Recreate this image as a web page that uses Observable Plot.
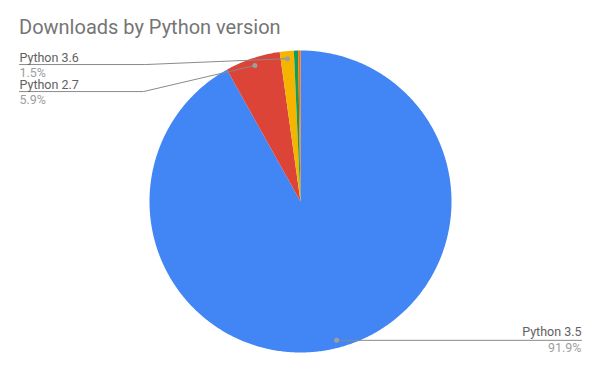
<!DOCTYPE html>
<html>
<head>
<meta charset="utf-8">
<script src="https://cdn.jsdelivr.net/npm/d3@7"></script>
<script src="https://cdn.jsdelivr.net/npm/@observablehq/plot@0.6"></script>
<style>
  body { margin: 0; background: #fff; }
  #wrap { position: relative; width: 600px; height: 371px; font-family: Roboto, sans-serif; }
  #title { position: absolute; left: 19px; top: 15px; font-size: 20px; font-weight: 400; line-height: normal; color: #757575; font-family: Roboto, sans-serif; white-space: nowrap; }
</style>
</head>
<body>
<div id="wrap">
  <div id="title">Downloads by Python version</div>
</div>
<script>
// ---- data ----
const versions = ["Python 3.5", "Python 2.7", "Python 3.6", "Python 3.4", "Other"];
const shares = [91.9, 5.9, 1.5, 0.45, 0.25];
const labelled = ["Python 3.5", "Python 2.7", "Python 3.6"];
const colors = ["#4285f4", "#db4437", "#f4b400", "#0f9d58", "#ff6d00"];

// ---- layout ----
const W = 600, H = 371;
const total = d3.sum(shares);
const slices = [];
let acc = 0;
versions.forEach((v, i) => {
  const a0 = acc / total * 2 * Math.PI;
  acc += shares[i];
  const a1 = acc / total * 2 * Math.PI;
  slices.push({name: v, value: shares[i], a0, a1, mid: (a0 + a1) / 2});
});

// polygon points for each slice (angle clockwise from 12 o'clock)
const pts = [];
for (const s of slices) {
  pts.push({name: s.name, x: 0, y: 0});
  const n = Math.max(2, Math.ceil((s.a1 - s.a0) / 0.01));
  for (let k = 0; k <= n; k++) {
    const a = s.a0 + (s.a1 - s.a0) * k / n;
    pts.push({name: s.name, x: Math.sin(a), y: Math.cos(a)});
  }
  pts.push({name: s.name, x: 0, y: 0});
}

// callouts (layout in radius units)
const rDot = 0.95;
const callout = {
  "Python 3.5": {elbow: null, endX: 1.861, lineY: null, side: "right"},
  "Python 2.7": {elbow: -1.04, endX: -1.861, lineY: 0.728, side: "left"},
  "Python 3.6": {elbow: -1.026, endX: -1.861, lineY: 0.907, side: "left"}
};
const dots = [], leaders = [], nameLabels = [], pctLabels = [];
for (const s of slices.filter(d => labelled.includes(d.name))) {
  const c = callout[s.name];
  const dx = rDot * Math.sin(s.mid), dy = rDot * Math.cos(s.mid);
  dots.push({name: s.name, x: dx, y: dy});
  const ly = c.lineY ?? dy;
  leaders.push({name: s.name, x: dx, y: dy});
  if (c.elbow != null) leaders.push({name: s.name, x: c.elbow, y: ly});
  leaders.push({name: s.name, x: c.endX, y: ly});
  nameLabels.push({name: s.name, x: c.endX, y: ly, anchor: c.side === "left" ? "start" : "end"});
  pctLabels.push({name: s.name, text: (s.value / total * 100).toFixed(1) + "%", x: c.endX, y: ly, anchor: c.side === "left" ? "start" : "end"});
}

const cx = 300, cy = 201, R = 151;
const chart = Plot.plot({
  width: W,
  height: H,
  marginLeft: cx - R,
  marginRight: W - cx - R,
  marginTop: cy - R,
  marginBottom: H - cy - R,
  x: {domain: [-1, 1], axis: null},
  y: {domain: [-1, 1], axis: null},
  color: {domain: versions, range: colors},
  style: {fontFamily: "Roboto, sans-serif", overflow: "visible"},
  marks: [
    Plot.line(pts, {x: "x", y: "y", z: "name", fill: "name", stroke: null, curve: "linear"}),
    Plot.line(leaders, {x: "x", y: "y", z: "name", stroke: "#8a8a8a", strokeWidth: 1}),
    Plot.dot(dots, {x: "x", y: "y", r: 2.5, fill: "#9e9e9e", stroke: null}),
    Plot.text(nameLabels.filter(d => d.anchor === "start"), {x: "x", y: "y", text: "name", textAnchor: "start", lineAnchor: "bottom", dy: -3, fontSize: 12.5, fontWeight: 400, fill: "#616161"}),
    Plot.text(nameLabels.filter(d => d.anchor === "end"), {x: "x", y: "y", text: "name", textAnchor: "end", lineAnchor: "bottom", dy: -4, fontSize: 12.5, fontWeight: 400, fill: "#616161"}),
    Plot.text(pctLabels.filter(d => d.anchor === "start"), {x: "x", y: "y", text: "text", textAnchor: "start", lineAnchor: "top", dy: 4, fontSize: 12.5, fontWeight: 400, fill: "#9e9e9e"}),
    Plot.text(pctLabels.filter(d => d.anchor === "end"), {x: "x", y: "y", text: "text", textAnchor: "end", lineAnchor: "top", dy: 3, fontSize: 12.5, fontWeight: 400, fill: "#9e9e9e"})
  ]
});
chart.style.position = "absolute";
chart.style.left = "0";
chart.style.top = "0";
document.getElementById("wrap").prepend(chart);
</script>
</body>
</html>
